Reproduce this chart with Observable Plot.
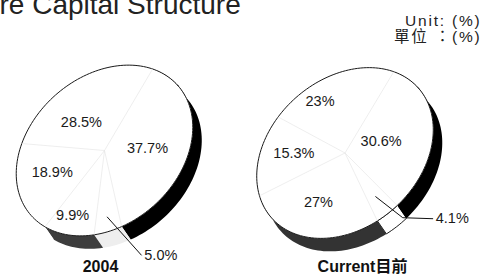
<!DOCTYPE html>
<html><head><meta charset="utf-8">
<script src="https://cdn.jsdelivr.net/npm/d3@7"></script>
<script src="https://cdn.jsdelivr.net/npm/@observablehq/plot@0.6"></script>
<style>body{margin:0;background:#fff;overflow:hidden} #chart{width:484px;height:274px}</style>
</head><body><div id="chart"></div>
<script>
// ---- data ----
const titleText = "re Capital Structure";
const unitLines = ["Unit: (%)", "單位 ：(%)"];
const pieTitles = ["2004", "Current目前"];
const shares2004 = [37.7, 5.0, 9.9, 18.9, 28.5];
const labels2004 = ["37.7%", "5.0%", "9.9%", "18.9%", "28.5%"];
const sharesCurrent = [30.6, 4.1, 27, 15.3, 23];
const labelsCurrent = ["30.6%", "4.1%", "27%", "15.3%", "23%"];

// ---- layout / style ----
const W = 484, H = 274;
const A = 98, B = 74, TILT = 41.5 * Math.PI / 180, D = [9, 13];
const ux = Math.cos(TILT), uy = -Math.sin(TILT), vx = Math.sin(TILT), vy = Math.cos(TILT);
const FONT = "'Liberation Sans', Arial, 'Noto Sans CJK TC', sans-serif";
const pies = [
  {title: pieTitles[0], shares: shares2004, labels: labels2004, cx: 104, cy: 150, start: -23.2, titleX: 100,
   sideFill: ["#000", "#eeeeee", "#3d3d3d", "#fff", "#fff"], sideStroke: ["none", "none", "none", "none", "none"],
   labelR: [0.5, null, 0.78, 0.6, 0.49], labelDA: [2, 0, 3, 4, -14], ext: 1, extR: 0.82, extPath: [[0, 0], [34, 38]]},
  {title: pieTitles[1], shares: sharesCurrent, labels: labelsCurrent, cx: 344.5, cy: 152.5, start: -22.7, titleX: 362,
   sideFill: ["#000", "#fff", "#333", "#fff", "#fff"], sideStroke: ["none", "#000", "none", "none", "none"],
   labelR: [0.41, null, 0.6, 0.6, 0.76], labelDA: [-2, 0, 3, 2, -14], ext: 1, extR: 0.72, extPath: [[0, 0], [27, 21], [57, 22]]}
];

function P(p, deg, r = 1) {
  const t = deg * Math.PI / 180;
  const lx = A * r * Math.cos(t), ly = B * r * Math.sin(t);
  return [p.cx + lx * ux + ly * vx, p.cy + lx * uy + ly * vy];
}
function arcPts(p, s, e, off = [0, 0]) {
  const n = Math.max(2, Math.ceil(Math.abs(e - s) / 2)), pts = [];
  for (let k = 0; k <= n; k++) {
    const [x, y] = P(p, s + (e - s) * k / n);
    pts.push({x: x + off[0], y: y + off[1]});
  }
  return pts;
}

const sideMarks = [], faceMarks = [], boundaryRows = [], labelRows = [], extLabelRows = [], leaderMarks = [];
for (const p of pies) {
  const total = d3.sum(p.shares);
  let a = p.start;
  p.shares.forEach((v, i) => {
    const s = a, e = a + v / total * 360;
    a = e;
    const pts = arcPts(p, s, e).concat(arcPts(p, e, s, D));
    sideMarks.push(Plot.line(pts, {x: "x", y: "y", fill: p.sideFill[i], stroke: p.sideStroke[i], strokeWidth: 0.9, curve: "linear-closed"}));
    const [bx, by] = P(p, s);
    boundaryRows.push({x1: p.cx, y1: p.cy, x2: bx, y2: by});
    const mid = (s + e) / 2;
    if (i === p.ext) {
      const [sx, sy] = P(p, mid, p.extR);
      const lp = p.extPath.map(([dx, dy]) => ({x: sx + dx, y: sy + dy}));
      leaderMarks.push(Plot.line(lp, {x: "x", y: "y", stroke: "#111", strokeWidth: 1}));
      const last = lp[lp.length - 1];
      extLabelRows.push({x: last.x + 3, y: last.y, text: p.labels[i]});
    } else {
      const [lx, ly] = P(p, mid + p.labelDA[i], p.labelR[i]);
      labelRows.push({x: lx, y: ly, text: p.labels[i]});
    }
  });
  faceMarks.push(Plot.line(arcPts(p, 0, 360), {x: "x", y: "y", fill: "#fff", stroke: "#1a1a1a", strokeWidth: 1, curve: "linear-closed"}));
}

const titleRows = pies.map(p => ({x: p.titleX, y: 266.5, text: p.title}));

const chart = Plot.plot({
  width: W, height: H, margin: 0,
  x: {domain: [0, W], range: [0, W], axis: null},
  y: {domain: [0, H], range: [0, H], axis: null},
  style: {fontFamily: FONT, background: "#fff"},
  marks: [
    ...sideMarks,
    ...faceMarks,
    Plot.link(boundaryRows, {x1: "x1", y1: "y1", x2: "x2", y2: "y2", stroke: "#e2e2e2", strokeWidth: 0.6}),
    ...leaderMarks,
    Plot.text(labelRows, {x: "x", y: "y", text: "text", fontSize: 14.5, fill: "#1a1a1a"}),
    Plot.text(extLabelRows, {x: "x", y: "y", text: "text", fontSize: 14.5, fill: "#1a1a1a", textAnchor: "start"}),
    Plot.text(titleRows, {x: "x", y: "y", text: "text", fontSize: 16, fontWeight: "bold", fill: "#111"}),
    Plot.text([titleText], {x: () => -1, y: () => 13, text: d => d, fontSize: 28, textAnchor: "start", lineAnchor: "bottom", fill: "#222"}),
    Plot.text(unitLines.map((t, i) => ({t, i})), {x: () => 481, y: d => [21, 37][d.i], text: "t", fontSize: 15.5, textAnchor: "end", fill: "#222"})
  ]
});
d3.select(chart).selectAll("text").filter(function() { return unitLines.includes(this.textContent); })
  .attr("letter-spacing", "1.8");
document.getElementById("chart").appendChild(chart);
</script>
</body></html>
